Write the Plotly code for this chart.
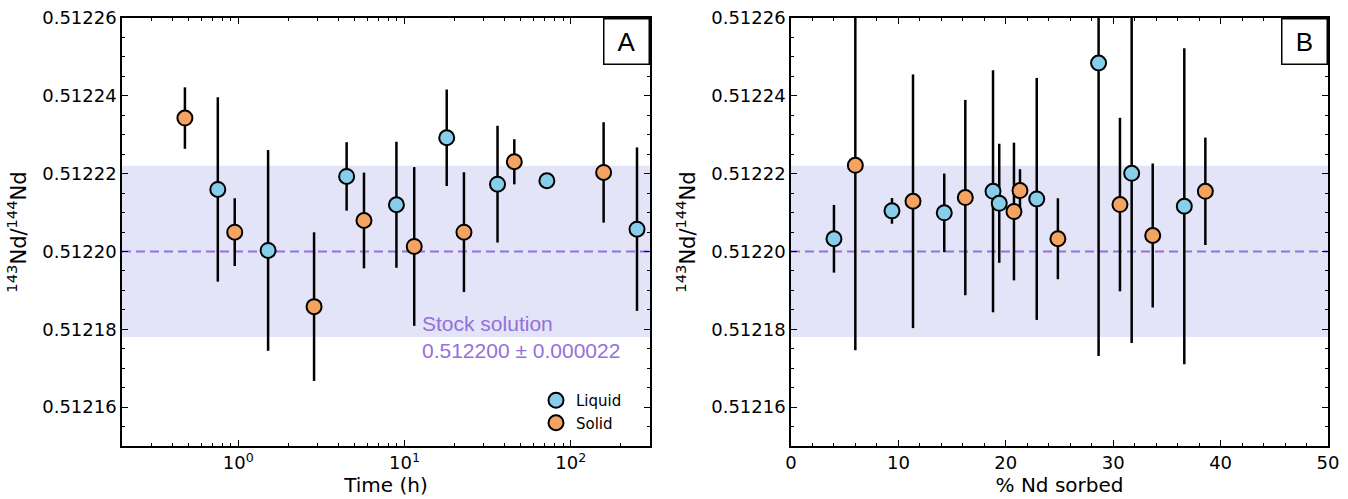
import plotly.graph_objects as go

# ---------------- data ----------------
# Panel A: time series
time_liquid = [0.754, 1.513, 4.49, 8.95, 17.96, 36.3, 71.9, 250.6]
ratio_liquid = [0.51221594, 0.51220026, 0.51221928, 0.51221200, 0.51222922, 0.51221730, 0.51221817, 0.51220573]
err_liquid = [0.0000237, 0.0000258, 0.0000088, 0.0000162, 0.0000124, 0.0000150, 0.0000005, 0.0000210]

time_solid = [0.478, 0.953, 2.86, 5.71, 11.45, 22.8, 45.8, 157.8]
ratio_solid = [0.51223428, 0.51220496, 0.51218582, 0.51220796, 0.51220128, 0.51220496, 0.51222305, 0.51222031]
err_solid = [0.0000079, 0.0000087, 0.0000191, 0.0000123, 0.0000204, 0.0000154, 0.0000058, 0.0000129]

# Panel B: % Nd sorbed
sorb_liquid = [4.00, 9.40, 14.27, 18.81, 19.39, 22.88, 28.64, 31.72, 36.62]
ratioB_liquid = [0.51220326, 0.51221043, 0.51220992, 0.51221546, 0.51221238, 0.51221350, 0.51224843, 0.51222008, 0.51221162]
errB_liquid = [0.0000087, 0.0000033, 0.0000101, 0.0000311, 0.0000153, 0.0000311, 0.0000753, 0.0000436, 0.0000406]

sorb_solid = [5.99, 11.36, 16.23, 20.76, 21.32, 24.85, 30.63, 33.68, 38.58]
ratioB_solid = [0.51222214, 0.51221290, 0.51221385, 0.51221026, 0.51221564, 0.51220326, 0.51221205, 0.51220410, 0.51221546]
errB_solid = [0.0000475, 0.0000326, 0.0000251, 0.0000177, 0.0000055, 0.0000104, 0.0000223, 0.0000185, 0.0000138]

stock_mean = 0.512200
stock_err = 0.000022

# ---------------- style ----------------
BLUE = "#87CEEB"
ORANGE = "#F4A460"
PURPLE = "#9370DB"
BAND = "#E4E4F8"
TICKFONT = dict(family="DejaVu Sans", size=18, color="black")
XTITLEFONT = dict(family="DejaVu Sans", size=20, color="black")
YTITLEFONT = dict(family="DejaVu Sans", size=21, color="black")

fig = go.Figure()

def add_series(x, y, e, color, name, xa, ya, showlegend):
    fig.add_trace(go.Scatter(
        x=x, y=y, mode="markers", name=name, xaxis=xa, yaxis=ya,
        showlegend=showlegend,
        marker=dict(color=color, size=15, line=dict(color="black", width=2)),
        error_y=dict(type="data", array=e, visible=True, color="black",
                     thickness=2.5, width=0),
    ))

add_series(time_liquid, ratio_liquid, err_liquid, BLUE, "Liquid", "x", "y", True)
add_series(time_solid, ratio_solid, err_solid, ORANGE, "Solid", "x", "y", True)
add_series(sorb_liquid, ratioB_liquid, errB_liquid, BLUE, "Liquid", "x2", "y2", False)
add_series(sorb_solid, ratioB_solid, errB_solid, ORANGE, "Solid", "x2", "y2", False)

# bands and dashed lines
for xr, yr in (("x domain", "y"), ("x2 domain", "y2")):
    fig.add_shape(type="rect", xref=xr, yref=yr, x0=0, x1=1,
                  y0=stock_mean - stock_err, y1=stock_mean + stock_err,
                  fillcolor=BAND, line=dict(width=0), layer="below")
    fig.add_shape(type="line", xref=xr, yref=yr, x0=0, x1=1,
                  y0=stock_mean, y1=stock_mean,
                  line=dict(color=PURPLE, width=2, dash="9px,5px"), layer="below")

yaxis_common = dict(
    range=[0.51215, 0.51226], tickmode="linear", tick0=0.51216, dtick=0.00002,
    tickformat=".5f", ticks="inside", ticklen=6, tickwidth=1.3, tickcolor="black",
    showline=True, linecolor="black", linewidth=1.5, mirror="allticks",
    showgrid=False, zeroline=False, tickfont=TICKFONT,
    minor=dict(ticks="inside", ticklen=3, tickwidth=1, tickcolor="black", dtick=0.000005, tick0=0.51216),
    title=dict(text="<sup>143</sup>Nd/<sup>144</sup>Nd", font=YTITLEFONT, standoff=10),
    automargin=False,
)

fig.update_layout(
    width=1348, height=499,
    margin=dict(l=0, r=0, t=18, b=53),
    paper_bgcolor="white", plot_bgcolor="white",
    xaxis=dict(
        domain=[122/1348, 650/1348], type="log", range=[-0.69897, 2.4771],
        tickmode="array", tickvals=[1, 10, 100],
        ticktext=["10<sup>0</sup>", "10<sup>1</sup>", "10<sup>2</sup>"],
        ticks="inside", ticklen=6, tickwidth=1.3, tickcolor="black",
        showline=True, linecolor="black", linewidth=1.5, mirror="allticks",
        showgrid=False, zeroline=False, tickfont=TICKFONT,
        minor=dict(ticks="inside", ticklen=3, tickwidth=1, tickcolor="black",
                   tickmode="array",
                   tickvals=[0.2, 0.3, 0.4, 0.5, 0.6, 0.7, 0.8, 0.9,
                             2, 3, 4, 5, 6, 7, 8, 9,
                             20, 30, 40, 50, 60, 70, 80, 90, 200, 300]),
        title=dict(text="Time (h)", font=XTITLEFONT, standoff=5),
        anchor="y", automargin=False,
    ),
    xaxis2=dict(
        domain=[791/1348, 1328/1348], range=[0, 50], tickmode="linear", tick0=0, dtick=10,
        ticks="inside", ticklen=6, tickwidth=1.3, tickcolor="black",
        showline=True, linecolor="black", linewidth=1.5, mirror="allticks",
        showgrid=False, zeroline=False, tickfont=TICKFONT,
        minor=dict(ticks="inside", ticklen=3, tickwidth=1, tickcolor="black", dtick=2, tick0=0),
        title=dict(text="% Nd sorbed", font=XTITLEFONT, standoff=5),
        anchor="y2", automargin=False,
    ),
    yaxis=dict(anchor="x", **yaxis_common),
    yaxis2=dict(anchor="x2", **yaxis_common),
    legend=dict(x=536/1348, y=(446-384)/428, xanchor="left", yanchor="top",
                font=dict(family="DejaVu Sans", size=15, color="black"),
                bgcolor="rgba(0,0,0,0)", itemwidth=30, tracegroupgap=0),
    showlegend=True,
)

# panel labels
for xr, lab in (("x domain", "A"), ("x2 domain", "B")):
    fig.add_annotation(xref=xr, yref="y domain" if lab == "A" else "y2 domain",
                       x=1, y=1, xanchor="right", yanchor="top", text=lab,
                       showarrow=False, width=44, height=44, borderpad=0,
                       bordercolor="black", borderwidth=1.5, bgcolor="white",
                       font=dict(family="Liberation Sans", size=26, color="black"))

fig.add_annotation(xref="x domain", yref="y domain", x=(420-122)/528, y=(446-337)/428,
                   xanchor="left", yanchor="middle", align="left", showarrow=False,
                   text="Stock solution<br>0.512200 ± 0.000022",
                   font=dict(family="Liberation Sans", size=21, color=PURPLE))

fig.write_html("out.html", config={"displayModeBar": False},
               post_script="document.body.style.margin='0';document.body.style.overflow='hidden';")
